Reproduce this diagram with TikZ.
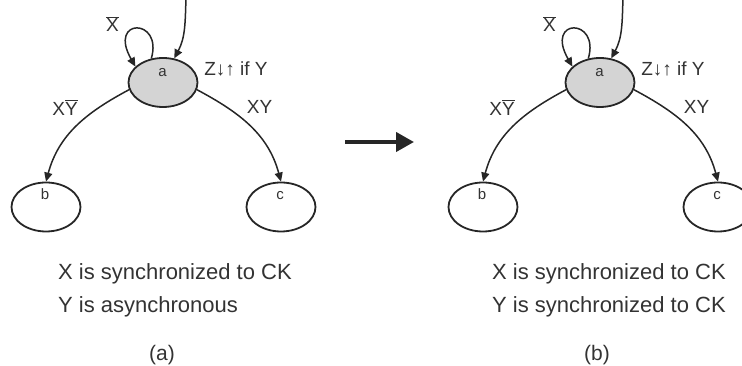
\documentclass[tikz,border=0pt]{standalone}
\usepackage{fontspec}
\setmainfont{Liberation Sans}
\usetikzlibrary{arrows.meta,shapes.geometric}
\newcommand\fsmdiagram[1]{%
  \node[st, fill=black!17] (a#1) at (163,283.5) {};
  \node[st] (b#1) at (46,159) {};
  \node[st] (c#1) at (281,159) {};
  \node[small] (la#1) at (162.5,293) {a};
  \node[small] (lb#1) at (45,172) {b};
  \node[small] (lc#1) at (280,170) {c};
  \coordinate (in#1) at (186,368);
  \draw[edge] (in#1) to[out=-92,in=62] (a#1.65);
  \draw[edge] (a#1.116) .. controls +(12,41) and +(-28,49) .. (a#1.150);
  \draw[edge] (a#1.192) to[out=208,in=75] (b#1.north);
  \draw[edge] (a#1.-12) to[out=-28,in=105] (c#1.north);
  \node[lbl] (lx#1) at (112.5,342) {$\overline{\hbox{X}}$};
  \node[lbl] (lz#1) at (236,297.5) {Z↓↑ if Y};
  \node[lbl] (lxyb#1) at (65,258.5) {X$\overline{\hbox{Y}}$};
  \node[lbl] (lxy#1) at (259.5,259.5) {XY};
}
\begin{document}
\begin{tikzpicture}[x=1pt,y=1pt,
  st/.style={ellipse, draw=black!85, line width=1.8pt, minimum width=69pt, minimum height=49pt, inner sep=0pt},
  small/.style={inner sep=0pt, font=\fontsize{15}{17}\selectfont, text=black!80},
  lbl/.style={inner sep=0pt, font=\fontsize{19}{22}\selectfont, text=black!80},
  txt/.style={inner sep=0pt, anchor=base west, font=\fontsize{22}{26}\selectfont, text=black!80},
  captxt/.style={inner sep=0pt, anchor=base, font=\fontsize{21}{25}\selectfont, text=black!80},
  edge/.style={draw=black!85, line width=1.5pt, -{Triangle[length=9pt,width=8pt]}}]
\useasboundingbox (0,0) rectangle (742,366);
\clip (0,0) rectangle (742,366);
\fsmdiagram{1}
\begin{scope}[xshift=437pt]
\fsmdiagram{2}
\end{scope}
\node[txt] (t1) at (58,86) {X is synchronized to CK};
\node[txt] (t2) at (58,53) {Y is asynchronous};
\node[captxt] (ca) at (162,5) {(a)};
\node[txt] (t3) at (492,86) {X is synchronized to CK};
\node[txt] (t4) at (492,53) {Y is synchronized to CK};
\node[captxt] (cb) at (597,5) {(b)};
\coordinate (m1) at (345,224);
\coordinate (m2) at (414,224);
\draw[draw=black!85, line width=4pt, -{Triangle[length=18pt,width=19pt]}] (m1) -- (m2);
\end{tikzpicture}
\end{document}
